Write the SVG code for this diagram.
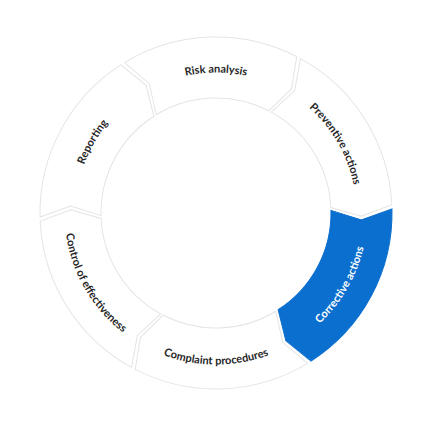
<svg xmlns="http://www.w3.org/2000/svg" xmlns:xlink="http://www.w3.org/1999/xlink" width="432" height="432" viewBox="0 0 432 432">
  <style>
    .seg { fill: #ffffff; stroke: #e4e4e4; stroke-width: 1; }
    .seg.active { fill: #0b6fcf; stroke: #0b6fcf; }
    .lbl { font-family: Lato, "Noto Sans", "Liberation Sans", sans-serif; font-size: 11px; font-weight: 700; fill: #262626; }
    .lbl.active { fill: #ffffff; }
  </style>
  <defs>
    <path id="segShape" d="M 153.49,-86.13 A 176 176 0 0 1 153.49,86.13 L 121.61,79.88 L 100.29,56.28 A 115 115 0 0 0 100.29,-56.28 L 131.54,-62.18 Z"/>
    <path id="arcCW" d="M 124.05,-65.96 A 140.5 140.5 0 0 1 119.15,74.45" fill="none"/>
    <path id="arcCCW" d="M 128.48,80.28 A 151.5 151.5 0 0 0 133.77,-71.13" fill="none"/>
  </defs>
  <rect width="432" height="432" fill="#ffffff"/>
  <g id="connectors"/>
  <g id="corrective-actions" transform="translate(216 213) rotate(28)">
    <use xlink:href="#segShape" class="seg active"/>
    <text class="lbl active"><textPath xlink:href="#arcCCW" startOffset="50%" text-anchor="middle">Corrective actions</textPath></text>
  </g>
  <g id="complaint-procedures" transform="translate(216 213) rotate(88)">
    <use xlink:href="#segShape" class="seg"/>
    <text class="lbl"><textPath xlink:href="#arcCCW" startOffset="50%" text-anchor="middle">Complaint procedures</textPath></text>
  </g>
  <g id="control-of-effectiveness" transform="translate(216 213) rotate(148)">
    <use xlink:href="#segShape" class="seg"/>
    <text class="lbl"><textPath xlink:href="#arcCCW" startOffset="50%" text-anchor="middle">Control of effectiveness</textPath></text>
  </g>
  <g id="reporting" transform="translate(216 213) rotate(208)">
    <use xlink:href="#segShape" class="seg"/>
    <text class="lbl"><textPath xlink:href="#arcCW" startOffset="50%" text-anchor="middle">Reporting</textPath></text>
  </g>
  <g id="risk-analysis" transform="translate(216 213) rotate(268)">
    <use xlink:href="#segShape" class="seg"/>
    <text class="lbl"><textPath xlink:href="#arcCW" startOffset="50%" text-anchor="middle">Risk analysis</textPath></text>
  </g>
  <g id="preventive-actions" transform="translate(216 213) rotate(328)">
    <use xlink:href="#segShape" class="seg"/>
    <text class="lbl"><textPath xlink:href="#arcCW" startOffset="50%" text-anchor="middle">Preventive actions</textPath></text>
  </g>
</svg>
